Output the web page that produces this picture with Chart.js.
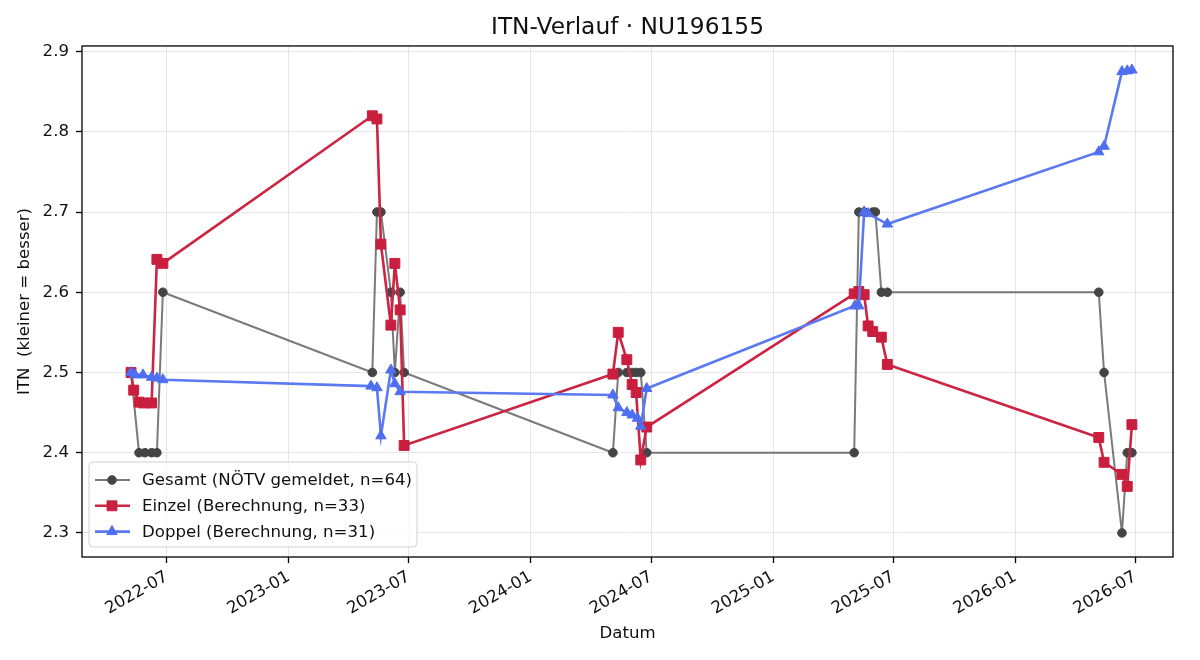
<!DOCTYPE html>
<html lang="de">
<head>
  <meta charset="UTF-8">
  <title>ITN-Verlauf · NU196155</title>
  <script src="https://cdn.jsdelivr.net/npm/chart.js"></script>
  <style>
    body { margin: 0; background: #fff; }
    #wrap { width: 1200px; height: 660px; }
  </style>
</head>
<body>
  <div id="wrap"><canvas id="itnChart" width="1200" height="660"></canvas></div>

  <script>
    const FONT = "'DejaVu Sans', sans-serif";

    // Gesamt (NÖTV gemeldet)
    const gesamtDates = [
      '2022-05-08', '2022-05-20', '2022-05-29', '2022-06-08', '2022-06-16', '2022-06-25',
      '2023-05-07', '2023-05-14', '2023-05-20', '2023-06-04', '2023-06-10', '2023-06-18', '2023-06-24',
      '2024-05-04', '2024-05-12', '2024-05-25', '2024-06-02', '2024-06-08', '2024-06-15', '2024-06-24',
      '2025-05-03', '2025-05-10', '2025-05-18', '2025-05-31', '2025-06-04', '2025-06-13', '2025-06-22',
      '2026-05-07', '2026-05-15', '2026-06-11', '2026-06-19', '2026-06-26'
    ];
    const gesamtValues = [
      2.5, 2.4, 2.4, 2.4, 2.4, 2.6,
      2.5, 2.7, 2.7, 2.6, 2.5, 2.6, 2.5,
      2.4, 2.5, 2.5, 2.5, 2.5, 2.5, 2.4,
      2.4, 2.7, 2.7, 2.7, 2.7, 2.6, 2.6,
      2.6, 2.5, 2.3, 2.4, 2.4
    ];

    // Einzel (Berechnung)
    const einzelDates = [
      '2022-05-08', '2022-05-12', '2022-05-20', '2022-05-27', '2022-06-08', '2022-06-16', '2022-06-25',
      '2023-05-07', '2023-05-14', '2023-05-20', '2023-06-04', '2023-06-10', '2023-06-18', '2023-06-24',
      '2024-05-04', '2024-05-12', '2024-05-25', '2024-06-02', '2024-06-08', '2024-06-15', '2024-06-24',
      '2025-05-03', '2025-05-10', '2025-05-18', '2025-05-24', '2025-05-31', '2025-06-13', '2025-06-22',
      '2026-05-07', '2026-05-15', '2026-06-11', '2026-06-19', '2026-06-26'
    ];
    const einzelValues = [
      2.5, 2.478, 2.463, 2.462, 2.462, 2.641, 2.636,
      2.82, 2.816, 2.66, 2.559, 2.636, 2.578, 2.409,
      2.498, 2.55, 2.516, 2.485, 2.475, 2.391, 2.432,
      2.598, 2.601, 2.597, 2.558, 2.551, 2.544, 2.51,
      2.419, 2.388, 2.373, 2.358, 2.435
    ];

    // Doppel (Berechnung)
    const doppelDates = [
      '2022-05-08', '2022-05-14', '2022-05-26', '2022-06-08', '2022-06-16', '2022-06-25',
      '2023-05-05', '2023-05-14', '2023-05-20', '2023-06-04', '2023-06-10', '2023-06-18',
      '2024-05-04', '2024-05-12', '2024-05-25', '2024-06-02', '2024-06-10', '2024-06-15', '2024-06-24',
      '2025-05-04', '2025-05-10', '2025-05-18', '2025-05-24', '2025-06-22',
      '2026-05-07', '2026-05-15', '2026-06-11', '2026-06-19', '2026-06-26'
    ];
    const doppelValues = [
      2.5, 2.497, 2.497, 2.494, 2.493, 2.491,
      2.483, 2.481, 2.421, 2.503, 2.486, 2.476,
      2.472, 2.456, 2.45, 2.447, 2.443, 2.433, 2.48,
      2.583, 2.583, 2.7, 2.698, 2.685,
      2.775, 2.782, 2.875, 2.876, 2.877
    ];

    const xTickLabels = ['2022-07', '2023-01', '2023-07', '2024-01', '2024-07', '2025-01', '2025-07', '2026-01', '2026-07'];
    const yTicks = [2.3, 2.4, 2.5, 2.6, 2.7, 2.8, 2.9];
    const xRange = ['2022-02-23', '2026-08-27'];
    const yRange = [2.27, 2.907];

    function toTime(s) {
      const [y, m, d] = s.split('-').map(Number);
      return Date.UTC(y, m - 1, d || 1);
    }
    function pairs(dates, values) {
      return dates.map((d, i) => ({ x: toTime(d), y: values[i] }));
    }
    function fmtMonth(v) {
      const d = new Date(v);
      return d.getUTCFullYear() + '-' + String(d.getUTCMonth() + 1).padStart(2, '0');
    }

    const series = [
      {
        label: 'Gesamt (NÖTV gemeldet, n=64)',
        data: pairs(gesamtDates, gesamtValues),
        borderColor: 'rgba(85,85,85,0.78)',
        borderWidth: 2,
        pointStyle: 'circle',
        pointRadius: 4.3,
        pointBackgroundColor: '#444444',
        pointBorderColor: '#444444',
        pointBorderWidth: 1,
        order: 3
      },
      {
        label: 'Einzel (Berechnung, n=33)',
        data: pairs(einzelDates, einzelValues),
        borderColor: '#cc2443',
        borderWidth: 2.6,
        pointStyle: 'rect',
        pointRadius: 7,
        pointBackgroundColor: '#c91e3e',
        pointBorderColor: '#c91e3e',
        pointBorderWidth: 1,
        order: 2
      },
      {
        label: 'Doppel (Berechnung, n=31)',
        data: pairs(doppelDates, doppelValues),
        borderColor: '#5b79f1',
        borderWidth: 2.6,
        pointStyle: 'triangle',
        pointRadius: 6,
        pointBackgroundColor: '#4f6ff0',
        pointBorderColor: '#4f6ff0',
        pointBorderWidth: 1,
        order: 1
      }
    ];

    // frame (all four spines) and the legend box inside the plot, lower left
    const frameAndLegend = {
      id: 'frameAndLegend',
      afterDatasetsDraw(chart) {
        const ctx = chart.ctx;
        const a = chart.chartArea;
        ctx.save();
        ctx.strokeStyle = '#000';
        ctx.lineWidth = 1.3;
        ctx.strokeRect(a.left, a.top, a.right - a.left, a.bottom - a.top);

        const bx = a.left + 7, bw = 328, bh = 85;
        const by = a.bottom - 10 - bh;
        ctx.beginPath();
        ctx.roundRect(bx, by, bw, bh, 4);
        ctx.fillStyle = 'rgba(255,255,255,0.8)';
        ctx.fill();
        ctx.strokeStyle = '#d0d0d0';
        ctx.lineWidth = 1;
        ctx.stroke();

        ctx.font = '16.6px ' + FONT;
        ctx.textBaseline = 'middle';
        ctx.textAlign = 'left';
        series.forEach((s, i) => {
          const y = by + 18 + i * 25.8;
          ctx.strokeStyle = s.borderColor;
          ctx.lineWidth = s.borderWidth;
          ctx.beginPath();
          ctx.moveTo(bx + 6, y);
          ctx.lineTo(bx + 41, y);
          ctx.stroke();
          ctx.fillStyle = s.pointBackgroundColor;
          ctx.strokeStyle = s.pointBorderColor;
          ctx.lineWidth = 1;
          Chart.helpers.drawPoint(ctx, { pointStyle: s.pointStyle, radius: s.pointRadius, rotation: 0, borderWidth: 1 }, bx + 23, y);
          ctx.fillStyle = '#111';
          ctx.fillText(s.label, bx + 53, y + 1);
        });
        ctx.restore();
      }
    };

    const ctx = document.getElementById('itnChart').getContext('2d');
    new Chart(ctx, {
      type: 'line',
      data: { datasets: series.map(s => Object.assign({ fill: false, tension: 0 }, s)) },
      options: {
        responsive: false,
        animation: false,
        devicePixelRatio: 1,
        layout: { padding: { left: 0, right: 27, top: 0, bottom: 0 } },
        plugins: {
          legend: { display: false },
          tooltip: { enabled: false },
          title: {
            display: true,
            fullSize: false,
            text: 'ITN-Verlauf · NU196155',
            color: '#111',
            font: { family: FONT, size: 23.3, weight: 'normal' },
            padding: { top: 14, bottom: 4 }
          }
        },
        scales: {
          x: {
            type: 'linear',
            min: toTime(xRange[0]),
            max: toTime(xRange[1]),
            afterBuildTicks: scale => { scale.ticks = xTickLabels.map(t => ({ value: toTime(t) })); },
            afterFit: scale => { scale.height = 103; },
            border: { display: false },
            grid: { color: '#e6e6e6', lineWidth: 1, tickColor: '#000', tickLength: 6, tickWidth: 1.3 },
            ticks: {
              autoSkip: false,
              minRotation: 30,
              maxRotation: 30,
              padding: 4,
              color: '#111',
              font: { family: FONT, size: 16.6 },
              callback: v => fmtMonth(v)
            },
            title: {
              display: true,
              text: 'Datum',
              color: '#111',
              font: { family: FONT, size: 16.6 },
              padding: { top: 0, bottom: 16 }
            }
          },
          y: {
            min: yRange[0],
            max: yRange[1],
            afterBuildTicks: scale => { scale.ticks = yTicks.map(v => ({ value: v })); },
            afterFit: scale => { scale.width = 82; },
            border: { display: false },
            grid: { color: '#e6e6e6', lineWidth: 1, tickColor: '#000', tickLength: 6, tickWidth: 1.3 },
            ticks: {
              padding: 7,
              color: '#111',
              font: { family: FONT, size: 16.6 },
              callback: v => v.toFixed(1)
            },
            title: {
              display: true,
              text: 'ITN  (kleiner = besser)',
              color: '#111',
              font: { family: FONT, size: 16.6 },
              padding: { top: 15, bottom: 0 }
            }
          }
        }
      },
      plugins: [frameAndLegend]
    });
  </script>
</body>
</html>
